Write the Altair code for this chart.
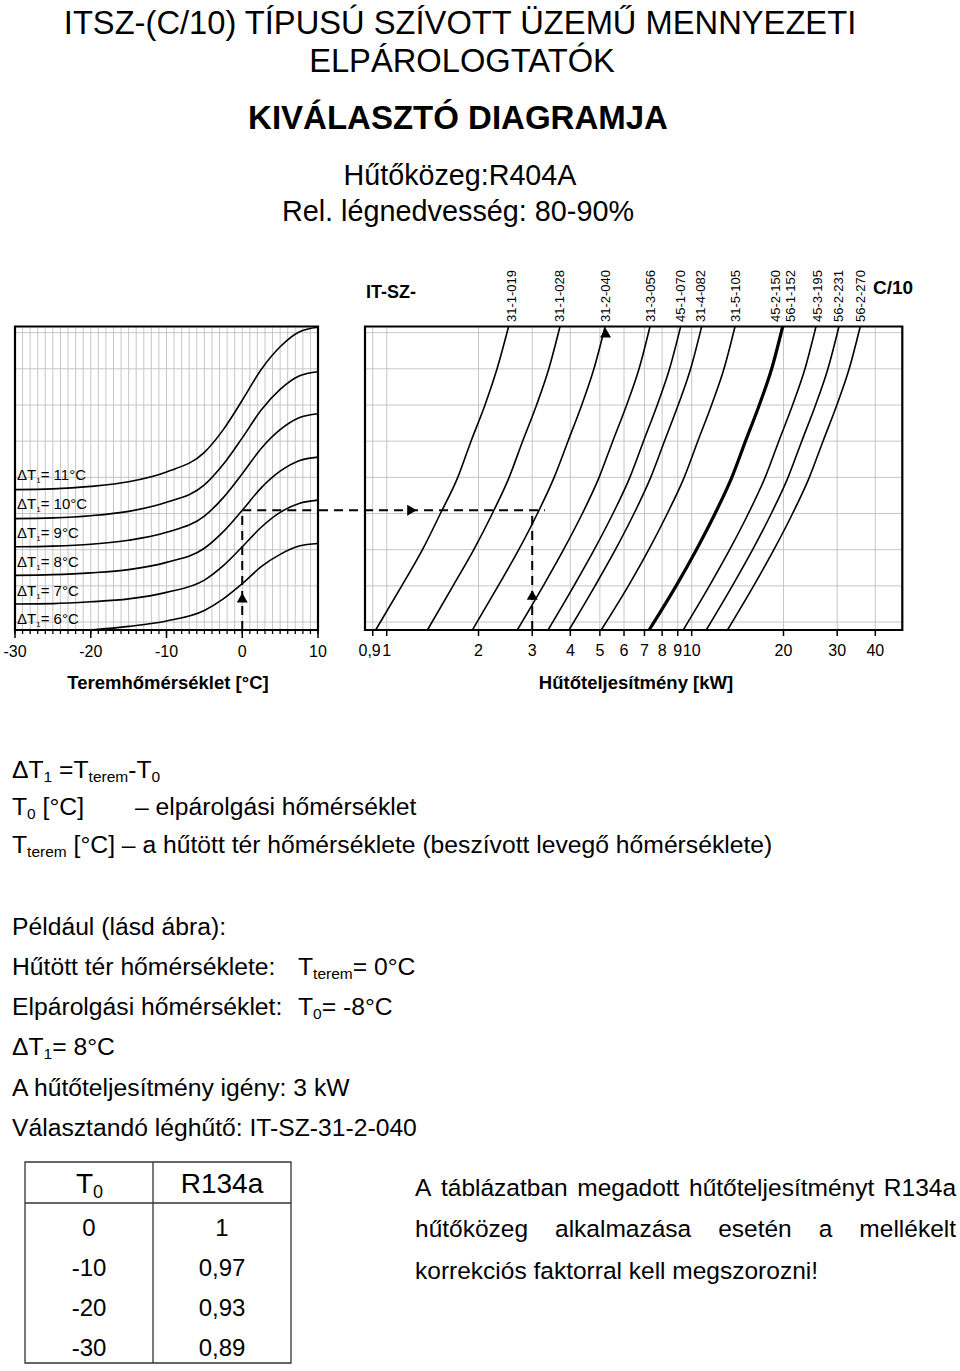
import altair as alt
import pandas as pd

# ---------------- data ----------------
title_line1 = "ITSZ-(C/10) TÍPUSÚ SZÍVOTT ÜZEMŰ MENNYEZETI"
title_line2 = "ELPÁROLOGTATÓK"
title_bold = "KIVÁLASZTÓ DIAGRAMJA"
refrigerant = "Hűtőközeg:R404A"
humidity = "Rel. légnedvesség: 80-90%"

# left panel: room temperature [°C] and the ΔT1 curves (abstract chart level)
room_temp = [-30, -25, -20, -15, -10, -5, -2.5, 0, 2.5, 5, 7.5, 10]
dt11 = [3.66, 3.68, 3.75, 3.88, 4.15, 4.69, 5.32, 6.13, 6.98, 7.61, 8.02, 8.15]
dt10 = [2.86, 2.88, 2.94, 3.06, 3.31, 3.79, 4.36, 5.09, 5.86, 6.43, 6.80, 6.92]
dt9 = [2.08, 2.10, 2.15, 2.26, 2.48, 2.93, 3.44, 4.10, 4.80, 5.32, 5.65, 5.76]
dt8 = [1.29, 1.31, 1.36, 1.45, 1.65, 2.04, 2.50, 3.09, 3.71, 4.17, 4.46, 4.56]
dt7 = [0.50, 0.51, 0.56, 0.64, 0.82, 1.16, 1.56, 2.08, 2.62, 3.03, 3.28, 3.37]
room_temp_dt6 = [-20, -15, -10, -5, -2.5, 0, 2.5, 5, 7.5, 10]
dt6 = [-0.22, -0.12, 0.03, 0.32, 0.64, 1.06, 1.53, 1.87, 2.10, 2.17]
dt_names = ["11", "10", "9", "8", "7", "6"]

# right panel: capacity [kW] of each unit at the chart levels
level = [8.17, 7, 6, 5, 4, 3, 2, 1, -0.22]
m_31_1_019 = [2.51, 2.30, 2.10, 1.89, 1.71, 1.50, 1.31, 1.12, 0.92]
m_31_1_028 = [3.70, 3.40, 3.10, 2.79, 2.52, 2.22, 1.93, 1.65, 1.36]
m_31_2_040 = [5.20, 4.78, 4.36, 3.93, 3.54, 3.12, 2.71, 2.32, 1.91]
m_31_3_056 = [7.30, 6.72, 6.12, 5.51, 4.97, 4.38, 3.80, 3.26, 2.68]
m_45_1_070 = [9.20, 8.46, 7.71, 6.95, 6.27, 5.52, 4.79, 4.11, 3.38]
m_31_4_082 = [10.78, 9.92, 9.03, 8.14, 7.34, 6.47, 5.62, 4.82, 3.96]
m_31_5_105 = [13.87, 12.76, 11.62, 10.47, 9.45, 8.32, 7.23, 6.20, 5.05]
m_45_2_150 = [19.88, 18.29, 16.66, 15.01, 13.54, 11.93, 10.36, 8.89, 7.25]
m_45_3_195 = [25.56, 23.52, 21.42, 19.30, 17.41, 15.34, 13.32, 11.43, 9.38]
m_56_2_231 = [30.4, 27.97, 25.48, 22.95, 20.70, 18.24, 15.84, 13.59, 11.16]
m_56_2_270 = [35.7, 32.84, 29.92, 26.95, 24.31, 21.42, 18.60, 15.96, 13.10]

model_labels = ["31-1-019", "31-1-028", "31-2-040", "31-3-056", "45-1-070", "31-4-082",
                "31-5-105", "45-2-150", "56-1-152", "45-3-195", "56-2-231", "56-2-270"]
model_label_kw = [2.58, 3.70, 5.22, 7.38, 9.20, 10.73, 13.97, 18.9, 21.12, 25.89, 30.48, 35.83]

left_ticks = [-30, -20, -10, 0, 10]
right_ticks = [0.9, 1, 2, 3, 4, 5, 6, 7, 8, 9, 10, 20, 30, 40]
right_tick_labels = ["0,9", "1", "2", "3", "4", "5", "6", "7", "8", "9", "10", "20", "30", "40"]

# worked example: T_terem = 0 °C, ΔT1 = 8 °C, 3 kW -> 31-2-040
ex_room = 0
ex_level = 3.09
ex_kw = 3

table_t0 = ["0", "-10", "-20", "-30"]
table_r134a = ["1", "0,97", "0,93", "0,89"]

# ---------------- layout helpers ----------------
W, H = 960, 1371
SANS = "Liberation Sans, Arial, Helvetica, sans-serif"
GRID = "#c6c6c6"

LX = dict(domain=[-30, 10], range=[15, 318])
RX = dict(type="log", domain=[0.8488, 49.04], range=[365, 902.3])
YS = dict(domain=[-0.22, 8.17], range=[630, 326.5])


def X(f, sc):
    return alt.X(f, type="quantitative", scale=alt.Scale(**sc), axis=None)


def Y(f):
    return alt.Y(f, type="quantitative", scale=alt.Scale(**YS), axis=None)


AW = {' ': 278, '!': 278, '%': 889, '(': 333, ')': 333, ',': 278, '-': 333, '.': 278, '/': 278,
      ':': 278, '=': 584, '[': 278, ']': 278, '°': 400, '–': 556, 'Δ': 668,
      'A': 667, 'B': 667, 'C': 722, 'D': 722, 'E': 667, 'F': 611, 'G': 778, 'H': 722, 'I': 278,
      'J': 500, 'K': 667, 'L': 556, 'M': 833, 'N': 722, 'O': 778, 'P': 667, 'Q': 778, 'R': 722,
      'S': 667, 'T': 611, 'U': 722, 'V': 667, 'W': 944, 'X': 667, 'Y': 667, 'Z': 611,
      'a': 556, 'b': 556, 'c': 500, 'd': 556, 'e': 556, 'f': 278, 'g': 556, 'h': 556, 'i': 222,
      'j': 222, 'k': 500, 'l': 222, 'm': 833, 'n': 556, 'o': 556, 'p': 556, 'q': 556, 'r': 333,
      's': 500, 't': 278, 'u': 556, 'v': 500, 'w': 722, 'x': 500, 'y': 500, 'z': 500,
      'á': 556, 'é': 556, 'í': 278, 'ó': 556, 'ö': 556, 'ő': 556, 'ú': 556, 'ü': 556, 'ű': 556}


def width(s, size):
    return sum(AW.get(c, 556) for c in s) * size / 1000.0


def txt(s, x, y, size, weight="normal", align="left", baseline="alphabetic", font=SANS, angle=0):
    kw = dict(fontSize=size, fontWeight=weight, align=align, baseline=baseline, font=font, color="black")
    if angle:
        kw["angle"] = angle
    return alt.Chart(pd.DataFrame({"t": [s]})).mark_text(**kw).encode(
        text="t:N", x=alt.value(x), y=alt.value(y))


def rich(parts, x, y, font=SANS):
    out = []
    cx = x
    for s, size, dy in parts:
        lead = len(s) - len(s.lstrip())
        cx += lead * 278 * size / 1000.0
        body = s.lstrip()
        if body.strip():
            out.append(txt(body.strip(), cx, y + dy, size, font=font))
        cx += width(body, size)
    return out


def justified(line, x0, x1, y, size, font=SANS):
    words = line.split()
    ws = [width(w, size) for w in words]
    gap = (x1 - x0 - sum(ws)) / (len(words) - 1)
    out = []
    cx = x0
    for w, wd in zip(words, ws):
        out.append(txt(w, cx, y, size, font=font))
        cx += wd + gap
    return out


layers = []

# ---------------- left panel ----------------
layers.append(alt.Chart(pd.DataFrame({"x": list(range(-29, 10)), "y0": -0.22, "y1": 8.17}))
              .mark_rule(color=GRID, strokeWidth=1)
              .encode(x=X("x", LX), y=Y("y0"), y2="y1"))
layers.append(alt.Chart(pd.DataFrame({"y": list(range(0, 9)), "x0": -30, "x1": 10}))
              .mark_rule(color=GRID, strokeWidth=1)
              .encode(y=Y("y"), x=X("x0", LX), x2="x1"))

left_rows = []
for name, vals in zip(dt_names[:5], [dt11, dt10, dt9, dt8, dt7]):
    for t, v in zip(room_temp, vals):
        left_rows.append({"dt": name, "t": t, "v": v})
for t, v in zip(room_temp_dt6, dt6):
    left_rows.append({"dt": "6", "t": t, "v": v})
layers.append(alt.Chart(pd.DataFrame(left_rows))
              .mark_line(color="black", strokeWidth=1.6, interpolate="monotone")
              .encode(x=X("t", LX), y=Y("v"), detail="dt:N"))

# ticks
layers.append(alt.Chart(pd.DataFrame({"t": list(range(-30, 11))}))
              .mark_rule(color="black", strokeWidth=1.3)
              .encode(x=X("t", LX), y=alt.value(630), y2=alt.value(634)))
layers.append(alt.Chart(pd.DataFrame({"t": left_ticks}))
              .mark_rule(color="black", strokeWidth=1.5)
              .encode(x=X("t", LX), y=alt.value(630), y2=alt.value(638)))
layers.append(alt.Chart(pd.DataFrame({"t": left_ticks, "lab": [str(v) for v in left_ticks]}))
              .mark_text(fontSize=16, font=SANS, align="center", baseline="middle", color="black")
              .encode(x=X("t", LX), y=alt.value(652), text="lab:N"))

# frame
layers.append(alt.Chart(pd.DataFrame({"a": [-30], "b": [10], "c": [-0.22], "d": [8.17]}))
              .mark_rect(fillOpacity=0, stroke="black", strokeWidth=2.2)
              .encode(x=X("a", LX), x2="b", y=Y("c"), y2="d"))

# ΔT labels
label_baselines = [480, 509, 538, 567, 596, 624]
for name, yb in zip(dt_names, label_baselines):
    layers += rich([("ΔT", 15, 0), ("1", 8, 3), ("= " + name + "°C", 15, 0)], 17, yb)

# example path (left)
layers.append(alt.Chart(pd.DataFrame({"x": [ex_room], "y0": [-0.22], "y1": [ex_level]}))
              .mark_rule(color="black", strokeWidth=2, strokeDash=[9, 6])
              .encode(x=X("x", LX), y=Y("y0"), y2="y1"))
layers.append(alt.Chart(pd.DataFrame({"x0": [ex_room], "x1": [10], "y": [ex_level]}))
              .mark_rule(color="black", strokeWidth=2, strokeDash=[9, 6])
              .encode(x=X("x0", LX), x2="x1", y=Y("y")))
layers.append(alt.Chart(pd.DataFrame({"x": [ex_room], "y": [0.67]}))
              .mark_point(shape="triangle-up", filled=True, color="black", opacity=1, size=120)
              .encode(x=X("x", LX), y=Y("y")))

layers.append(txt("Teremhőmérséklet [°C]", 168, 689, 18.5, weight="bold", align="center"))

# ---------------- right panel ----------------
layers.append(alt.Chart(pd.DataFrame({"x": right_ticks, "y0": -0.22, "y1": 8.17}))
              .mark_rule(color=GRID, strokeWidth=1)
              .encode(x=X("x", RX), y=Y("y0"), y2="y1"))
layers.append(alt.Chart(pd.DataFrame({"y": list(range(0, 9)), "x0": 0.8488, "x1": 49.04}))
              .mark_rule(color=GRID, strokeWidth=1)
              .encode(y=Y("y"), x=X("x0", RX), x2="x1"))

thin_models = [("31-1-019", m_31_1_019), ("31-1-028", m_31_1_028), ("31-2-040", m_31_2_040),
               ("31-3-056", m_31_3_056), ("45-1-070", m_45_1_070), ("31-4-082", m_31_4_082),
               ("31-5-105", m_31_5_105), ("45-3-195", m_45_3_195), ("56-2-231", m_56_2_231),
               ("56-2-270", m_56_2_270)]
right_rows = []
for name, vals in thin_models:
    for u, v in zip(level, vals):
        right_rows.append({"m": name, "u": u, "kw": v})
layers.append(alt.Chart(pd.DataFrame(right_rows))
              .mark_line(color="black", strokeWidth=1.6, interpolate="monotone")
              .encode(x=X("kw", RX), y=Y("u"), detail="m:N"))
layers.append(alt.Chart(pd.DataFrame({"u": level, "kw": m_45_2_150}))
              .mark_line(color="black", strokeWidth=3.2, interpolate="monotone")
              .encode(x=X("kw", RX), y=Y("u")))

layers.append(alt.Chart(pd.DataFrame({"t": right_ticks}))
              .mark_rule(color="black", strokeWidth=1.5)
              .encode(x=X("t", RX), y=alt.value(630), y2=alt.value(636)))
layers.append(alt.Chart(pd.DataFrame({"t": right_ticks[1:], "lab": right_tick_labels[1:]}))
              .mark_text(fontSize=16, font=SANS, align="center", baseline="middle", color="black")
              .encode(x=X("t", RX), y=alt.value(651), text="lab:N"))
layers.append(alt.Chart(pd.DataFrame({"t": right_ticks[:1], "lab": right_tick_labels[:1]}))
              .mark_text(fontSize=16, font=SANS, align="right", dx=8, baseline="middle", color="black")
              .encode(x=X("t", RX), y=alt.value(651), text="lab:N"))

layers.append(alt.Chart(pd.DataFrame({"a": [0.8488], "b": [49.04], "c": [-0.22], "d": [8.17]}))
              .mark_rect(fillOpacity=0, stroke="black", strokeWidth=2.2)
              .encode(x=X("a", RX), x2="b", y=Y("c"), y2="d"))

layers.append(alt.Chart(pd.DataFrame({"kw": model_label_kw, "name": model_labels}))
              .mark_text(fontSize=13, font=SANS, angle=270, align="left", baseline="middle", color="black")
              .encode(x=X("kw", RX), y=alt.value(322), text="name:N"))

# example path (right)
layers.append(alt.Chart(pd.DataFrame({"x0": [0.6], "x1": [3.3], "y": [ex_level]}))
              .mark_rule(color="black", strokeWidth=2, strokeDash=[9, 6])
              .encode(x=X("x0", RX), x2="x1", y=Y("y")))
layers.append(alt.Chart(pd.DataFrame({"x": [ex_kw], "y0": [-0.22], "y1": [ex_level]}))
              .mark_rule(color="black", strokeWidth=2, strokeDash=[9, 6])
              .encode(x=X("x", RX), y=Y("y0"), y2="y1"))
layers.append(alt.Chart(pd.DataFrame({"x": [ex_kw, 5.22], "y": [0.745, 8.0]}))
              .mark_point(shape="triangle-up", filled=True, color="black", opacity=1, size=120)
              .encode(x=X("x", RX), y=Y("y")))
layers.append(alt.Chart(pd.DataFrame({"x": [1.21], "y": [ex_level]}))
              .mark_point(shape="triangle-right", filled=True, color="black", opacity=1, size=120)
              .encode(x=X("x", RX), y=Y("y")))

layers.append(txt("IT-SZ-", 366, 298, 18, weight="bold"))
layers.append(txt("C/10", 873, 294, 19, weight="bold"))
layers.append(txt("Hűtőteljesítmény [kW]", 636, 689, 18.5, weight="bold", align="center"))

# ---------------- header ----------------
layers.append(txt(title_line1, 460, 34, 32.7, align="center"))
layers.append(txt(title_line2, 462, 72, 32.7, align="center"))
layers.append(txt(title_bold, 458, 129, 33, weight="bold", align="center"))
layers.append(txt(refrigerant, 460, 185, 28.7, align="center"))
layers.append(txt(humidity, 458, 221, 28.8, align="center"))

# ---------------- explanation text ----------------
F = 24.7
S = 15.5
layers += rich([("ΔT", F, 0), ("1", S, 4), (" =T", F, 0), ("terem", S, 4), ("-T", F, 0), ("0", S, 4)], 12, 778)
layers += rich([("T", F, 0), ("0", S, 4), (" [°C]", F, 0)], 12, 815)
layers.append(txt("– elpárolgási hőmérséklet", 135, 815, F))
layers += rich([("T", F, 0), ("terem", S, 4),
                (" [°C] – a hűtött tér hőmérséklete (beszívott levegő hőmérséklete)", F, 0)], 12, 853)
layers.append(txt("Például (lásd ábra):", 12, 935, F))
layers.append(txt("Hűtött tér hőmérséklete:", 12, 975, F))
layers += rich([("T", F, 0), ("terem", S, 4), ("= 0°C", F, 0)], 298, 975)
layers.append(txt("Elpárolgási hőmérséklet:", 12, 1015, F))
layers += rich([("T", F, 0), ("0", S, 4), ("= -8°C", F, 0)], 298, 1015)
layers += rich([("ΔT", F, 0), ("1", S, 4), ("= 8°C", F, 0)], 12, 1055)
layers.append(txt("A hűtőteljesítmény igény: 3 kW", 12, 1096, F))
layers.append(txt("Választandó léghűtő: IT-SZ-31-2-040", 12, 1136, F))

# ---------------- table ----------------
layers.append(alt.Chart(pd.DataFrame({"a": [0]})).mark_rect(fillOpacity=0, stroke="#333333", strokeWidth=1.3)
              .encode(x=alt.value(25), x2=alt.value(291), y=alt.value(1162), y2=alt.value(1363)))
layers.append(alt.Chart(pd.DataFrame({"a": [0]})).mark_rule(color="#333333", strokeWidth=1.3)
              .encode(x=alt.value(153), y=alt.value(1162), y2=alt.value(1363)))
layers.append(alt.Chart(pd.DataFrame({"a": [0]})).mark_rule(color="#333333", strokeWidth=1.3)
              .encode(x=alt.value(25), x2=alt.value(291), y=alt.value(1203)))
layers += rich([("T", 28, 0), ("0", 18, 5)], 76, 1193)
layers.append(txt("R134a", 222, 1193, 28, align="center"))
tbl = pd.DataFrame({"row": [0, 1, 2, 3], "t0": table_t0, "f": table_r134a})
ROWS = dict(domain=[0, 3], range=[1229, 1349])
layers.append(alt.Chart(tbl).mark_text(fontSize=24, font=SANS, align="center", color="black")
              .encode(x=alt.value(89), y=alt.Y("row:Q", scale=alt.Scale(**ROWS), axis=None), text="t0:N"))
layers.append(alt.Chart(tbl).mark_text(fontSize=24, font=SANS, align="center", color="black")
              .encode(x=alt.value(222), y=alt.Y("row:Q", scale=alt.Scale(**ROWS), axis=None), text="f:N"))

# ---------------- note on the right ----------------
P = 24.5
layers += justified("A táblázatban megadott hűtőteljesítményt R134a", 415, 956, 1196, P)
layers += justified("hűtőközeg alkalmazása esetén a mellékelt", 415, 956, 1237, P)
layers.append(txt("korrekciós faktorral kell megszorozni!", 415, 1279, P))

chart = (alt.layer(*layers)
         .resolve_scale(x="independent", y="independent")
         .properties(width=W, height=H, padding=0, autosize=alt.AutoSizeParams(type="none"),
                     background="white")
         .configure_view(strokeWidth=0))

chart.save("out.html", embed_options={"renderer": "svg", "actions": False})
